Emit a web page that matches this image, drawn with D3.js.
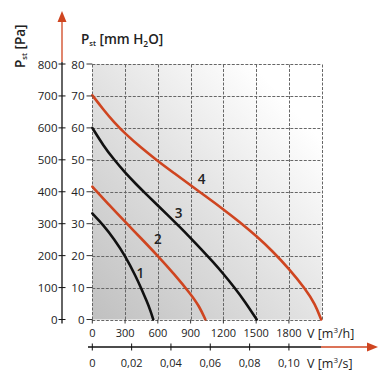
<!DOCTYPE html>
<html><head><meta charset="utf-8">
<script src="https://cdn.jsdelivr.net/npm/d3@7"></script>
<style>
html,body{margin:0;padding:0;background:#fff;}
svg{display:block;}
text{font-family:"Open Sans",sans-serif;fill:#222;}
</style></head>
<body>
<script>
// ---- data ----
const flowTicks = [0, 300, 600, 900, 1200, 1500, 1800];          // m3/h
const flowGrid = [0, 300, 600, 900, 1200, 1500, 1800, 2100];
const flowSecTicks = [0, 0.02, 0.04, 0.06, 0.08, 0.10];          // m3/s
const flowSecLabels = ["0", "0,02", "0,04", "0,06", "0,08", "0,10"];
const mmTicks = [0, 10, 20, 30, 40, 50, 60, 70, 80];            // mm H2O
const paLabels = ["0", "100", "200", "300", "400", "500", "600", "700", "800"];
const curveNames = ["1", "2", "3", "4"];
const curve1Flow = [0, 100, 200, 300, 400, 450, 500, 530, 558];
const curve1P    = [33.2, 29.6, 25.2, 20, 13.4, 9.6, 5.6, 3.0, 0];
const curve2Flow = [0, 150, 300, 450, 600, 750, 900, 980, 1035];
const curve2P    = [41.6, 36, 30.6, 25.3, 19.9, 14.2, 8, 4.1, 0];
const curve3Flow = [0, 100, 200, 300, 400, 500, 600, 700, 800, 900, 1000, 1100, 1200, 1300, 1400, 1505];
const curve3P    = [60, 54.5, 50, 46, 42.4, 39, 35.7, 32.4, 29, 25.5, 21.9, 18.2, 14.3, 10.1, 5.5, 0];
const curve4Flow = [0, 100, 200, 300, 450, 600, 750, 900, 1050, 1200, 1350, 1500, 1650, 1800, 1950, 2040, 2095];
const curve4P    = [70.2, 65.8, 61.7, 58.2, 53.7, 49.6, 45.8, 42, 38.3, 34.5, 30.5, 26.2, 21.4, 15.9, 9.6, 4.8, 0];
const curveColors = ["#111111", "#cf4520", "#111111", "#cf4520"];

const W = 389, H = 380;
const svg = d3.select("body").append("svg").attr("width", W).attr("height", H);
const orange = "#cf4520";

const x = d3.scaleLinear().domain([0, 2100]).range([92.3, 321.7]);
const y = d3.scaleLinear().domain([0, 80]).range([319.5, 64]);
const xs = d3.scaleLinear().domain([0, 0.10]).range([x(0), x(1800)]);
const yPa = d3.scaleLinear().domain([0, 800]).range([y(0), y(80)]);

// background gradient
const defs = svg.append("defs");
const g = defs.append("linearGradient").attr("id", "bg")
  .attr("x1", "0").attr("y1", "1").attr("x2", "1").attr("y2", "0");
g.append("stop").attr("offset", "0").attr("stop-color", "#c0c0c0");
g.append("stop").attr("offset", "0.45").attr("stop-color", "#e0e0e0");
g.append("stop").attr("offset", "0.85").attr("stop-color", "#ffffff");
svg.append("rect").attr("x", x(0)).attr("y", y(80))
  .attr("width", x(2100) - x(0)).attr("height", y(0) - y(80)).attr("fill", "url(#bg)");

// grid
const grid = svg.append("g").attr("stroke", "#666").attr("stroke-width", 1)
  .attr("stroke-dasharray", "3,1.5");
grid.selectAll(".h").data(mmTicks).join("line")
  .attr("x1", x(0)).attr("x2", x(2100))
  .attr("y1", d => Math.round(y(d)) + 0.5).attr("y2", d => Math.round(y(d)) + 0.5);
grid.selectAll(".v").data(flowGrid).join("line")
  .attr("y1", y(0)).attr("y2", y(80))
  .attr("x1", d => Math.round(x(d)) + 0.5).attr("x2", d => Math.round(x(d)) + 0.5);

// small ticks below the plot at flow values
svg.append("g").selectAll("line").data(flowTicks).join("line")
  .attr("x1", d => x(d)).attr("x2", d => x(d))
  .attr("y1", y(0)).attr("y2", y(0) + 4).attr("stroke", "#333").attr("stroke-width", 1);

// curves
const line = d3.line().x(d => x(d[0])).y(d => y(d[1])).curve(d3.curveBasis);
const curves = [
  d3.zip(curve1Flow, curve1P), d3.zip(curve2Flow, curve2P),
  d3.zip(curve3Flow, curve3P), d3.zip(curve4Flow, curve4P)
];
svg.append("g").selectAll("path").data(curves).join("path")
  .attr("d", line).attr("fill", "none")
  .attr("stroke", (d, i) => curveColors[i]).attr("stroke-width", 2.6)
  .attr("stroke-linecap", "round");

// curve labels
const labelPos = [[440, 14], [600, 24.8], [790, 32.8], [1000, 43.6]];
svg.append("g").selectAll("text").data(curveNames).join("text")
  .attr("x", (d, i) => x(labelPos[i][0])).attr("y", (d, i) => y(labelPos[i][1]))
  .attr("text-anchor", "middle").attr("dominant-baseline", "middle")
  .attr("font-size", 13.5).attr("font-weight", 600).style("fill", "#222")
  .text(d => d);

// mm H2O axis labels + ticks
svg.append("g").selectAll("text").data(mmTicks).join("text")
  .attr("x", 84.5).attr("y", d => y(d)).attr("text-anchor", "end")
  .attr("dominant-baseline", "central").attr("font-size", 11.5).text(d => d);
svg.append("g").selectAll("line").data(mmTicks).join("line")
  .attr("x1", 86.5).attr("x2", x(0)).attr("y1", d => y(d)).attr("y2", d => y(d))
  .attr("stroke", "#333").attr("stroke-width", 1);

// Pa axis
const ax = 62;
svg.append("line").attr("x1", ax).attr("x2", ax).attr("y1", y(0) + 4).attr("y2", yPa(800) - 2)
  .attr("stroke", "#111").attr("stroke-width", 1.3);
svg.append("line").attr("x1", ax).attr("x2", ax).attr("y1", yPa(800) - 2).attr("y2", 20)
  .attr("stroke", orange).attr("stroke-width", 1.3);
svg.append("path").attr("d", `M${ax},11 L${ax - 4.5},22 L${ax + 4.5},22 Z`).attr("fill", orange);
svg.append("g").selectAll("line").data(paLabels).join("line")
  .attr("x1", ax - 3.5).attr("x2", ax + 3.5)
  .attr("y1", (d, i) => yPa(i * 100)).attr("y2", (d, i) => yPa(i * 100))
  .attr("stroke", "#111").attr("stroke-width", 1);
svg.append("g").selectAll("text").data(paLabels).join("text")
  .attr("x", 57.5).attr("y", (d, i) => yPa(i * 100)).attr("text-anchor", "end")
  .attr("dominant-baseline", "central").attr("font-size", 11.5).text(d => d);

// bottom m3/h labels
svg.append("g").selectAll("text").data(flowTicks).join("text")
  .attr("x", d => x(d)).attr("y", 337).attr("text-anchor", "middle")
  .attr("font-size", 11).style("font-family", "'Liberation Sans Narrow','Open Sans',sans-serif")
  .text(d => d);
const vh = svg.append("text").attr("x", 307).attr("y", 338).attr("font-size", 12.5);
vh.append("tspan").text("V [m");
vh.append("tspan").attr("font-size", 8).attr("dy", -5).text("3");
vh.append("tspan").attr("dy", 5).text("/h]");

// m3/s axis
const by = 347;
svg.append("line").attr("x1", 88).attr("x2", 321).attr("y1", by).attr("y2", by)
  .attr("stroke", "#111").attr("stroke-width", 1.3);
svg.append("line").attr("x1", 321).attr("x2", 368).attr("y1", by).attr("y2", by)
  .attr("stroke", orange).attr("stroke-width", 1.3);
svg.append("path").attr("d", `M378,${by} L367,${by - 4.5} L367,${by + 4.5} Z`).attr("fill", orange);
svg.append("g").selectAll("line").data(flowSecTicks).join("line")
  .attr("x1", d => xs(d)).attr("x2", d => xs(d)).attr("y1", by - 3.5).attr("y2", by + 3.5)
  .attr("stroke", "#111").attr("stroke-width", 1);
svg.append("g").selectAll("text").data(flowSecLabels).join("text")
  .attr("x", (d, i) => xs(flowSecTicks[i])).attr("y", 367).attr("text-anchor", "middle")
  .attr("font-size", 11).style("font-family", "'Liberation Sans Narrow','Open Sans',sans-serif")
  .text(d => d);
const vs = svg.append("text").attr("x", 307).attr("y", 368).attr("font-size", 12.5);
vs.append("tspan").text("V [m");
vs.append("tspan").attr("font-size", 8).attr("dy", -5).text("3");
vs.append("tspan").attr("dy", 5).text("/s]");

// titles
const t1 = svg.append("text").attr("x", 81).attr("y", 44).attr("font-size", 13.5).attr("font-weight", 600);
t1.append("tspan").text("P");
t1.append("tspan").attr("font-size", 7.5).attr("dy", 2).text("st");
t1.append("tspan").attr("dy", -2).text(" [mm H");
t1.append("tspan").attr("font-size", 8.5).attr("dy", 3).text("2");
t1.append("tspan").attr("dy", -3).text("O]");

const t2 = svg.append("text").attr("transform", "translate(25,68) rotate(-90)")
  .attr("font-size", 13.5).attr("font-weight", 600);
t2.append("tspan").text("P");
t2.append("tspan").attr("font-size", 7.5).attr("dy", 2).text("st");
t2.append("tspan").attr("dy", -2).text(" [Pa]");
</script>
</body></html>
